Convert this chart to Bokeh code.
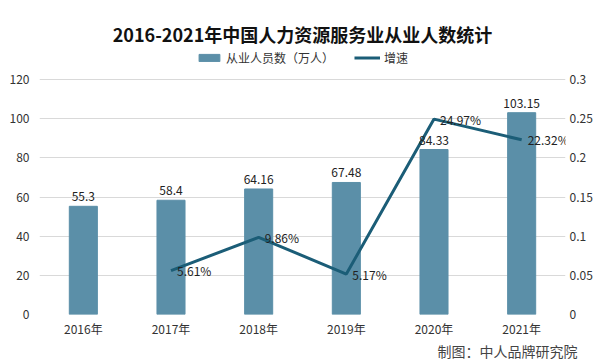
from bokeh.plotting import figure
from bokeh.models import (Range1d, LinearAxis, FixedTicker, Legend, LegendItem,
                          ColumnDataSource, LabelSet, Title, FactorRange)
from bokeh.core.properties import value
from bokeh.embed import file_html
from bokeh.resources import INLINE

years = ["2016年", "2017年", "2018年", "2019年", "2020年", "2021年"]
staff = [55.3, 58.4, 64.16, 67.48, 84.33, 103.15]
staff_labels = ["55.3", "58.4", "64.16", "67.48", "84.33", "103.15"]
rate_years = ["2017年", "2018年", "2019年", "2020年", "2021年"]
rates = [0.0561, 0.0986, 0.0517, 0.2497, 0.2232]
rate_labels = ["5.61%", "9.86%", "5.17%", "24.97%", "22.32%"]
left_ticks = [0, 20, 40, 60, 80, 100, 120]
right_ticks = [0, 0.05, 0.1, 0.15, 0.2, 0.25, 0.3]
right_tick_labels = ["0", "0.05", "0.1", "0.15", "0.2", "0.25", "0.3"]
title_text = "2016-2021年中国人力资源服务业从业人数统计"
credit_text = "制图：中人品牌研究院"

FONT = "Noto Sans CJK SC"
BAR = "#5b8fa8"
LINE = "#1b5d77"

# frame extends above the 120 gridline to hold the legend
TOP_EXTRA = 263.0 / 233.0
p = figure(width=603, height=359, x_range=FactorRange(*years, range_padding=0),
           y_range=Range1d(0, 120 * TOP_EXTRA), output_backend="svg", toolbar_location=None,
           min_border_left=39, min_border_right=38, min_border_top=49, min_border_bottom=0)
p.extra_y_ranges = {"rate": Range1d(0, 0.3 * TOP_EXTRA)}

bar_src = ColumnDataSource(dict(x=years, top=staff, lab=staff_labels))
line_src = ColumnDataSource(dict(x=rate_years, y=rates, lab=rate_labels))

bars = p.vbar(x="x", top="top", width=0.32, color=BAR, source=bar_src)
ln = p.line(x="x", y="y", y_range_name="rate", line_width=3, color=LINE, source=line_src)

p.add_layout(LabelSet(x="x", y="top", text="lab", source=bar_src, text_align="center",
                      text_baseline="bottom", y_offset=5, text_font_size="12px",
                      text_font=value(FONT), text_color="#222222"))
p.add_layout(LabelSet(x="x", y="y", text="lab", source=line_src, y_range_name="rate",
                      text_align="left", text_baseline="middle", x_offset=6,
                      text_font_size="12px", text_font=value(FONT), text_color="#222222"))

# axes
p.yaxis.ticker = FixedTicker(ticks=left_ticks)
right = LinearAxis(y_range_name="rate", ticker=FixedTicker(ticks=right_ticks),
                   major_label_overrides={t: s for t, s in zip(right_ticks, right_tick_labels)})
p.add_layout(right, "right")
for ax in [p.yaxis[0], right, p.xaxis[0]]:
    ax.axis_line_color = None
    ax.major_tick_line_color = None
    ax.minor_tick_line_color = None
    ax.major_tick_out = 0
    ax.major_tick_in = 0
    ax.minor_tick_out = 0
    ax.minor_tick_in = 0
    ax.major_label_text_font = FONT
    ax.major_label_text_font_size = "12px"
    ax.major_label_text_color = "#333333"
p.yaxis[0].major_label_standoff = 10
right.major_label_standoff = 4
p.xaxis[0].major_label_standoff = 5

p.xgrid.grid_line_color = None
p.ygrid.grid_line_color = "#d9d9d9"
p.outline_line_color = None

legend = Legend(items=[LegendItem(label="从业人员数（万人）", renderers=[bars]),
                       LegendItem(label="增速", renderers=[ln])],
                orientation="horizontal", location="top_center", border_line_color=None,
                background_fill_alpha=0,
                label_text_font=FONT, label_text_font_size="12px", label_text_color="#333333",
                glyph_width=26, glyph_height=9, spacing=20, padding=2, margin=0,
                label_standoff=4, label_height=14)
p.add_layout(legend)

p.title.text = title_text
p.title.align = "center"
p.title.text_font = FONT
p.title.text_font_size = "18px"
p.title.text_font_style = "bold"
p.title.text_color = "#111111"
p.title.standoff = 5

p.add_layout(Title(text=credit_text, align="right", text_font=FONT,
                   text_font_size="14px", text_font_style="normal",
                   text_color="#444444", offset=-12, standoff=-2), "below")

open("out.html", "w").write(file_html(p, INLINE))
